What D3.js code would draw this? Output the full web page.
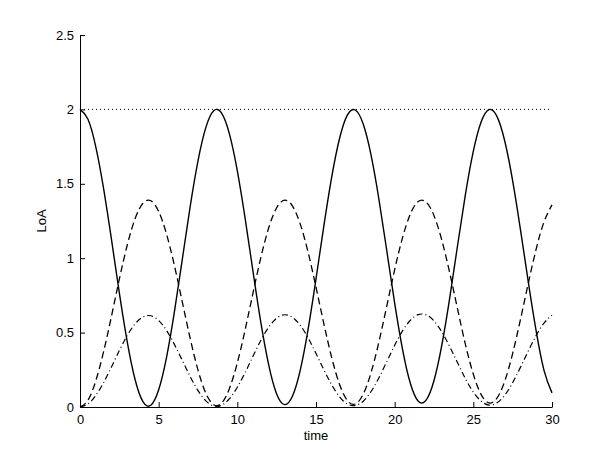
<!DOCTYPE html>
<html>
<head>
<meta charset="utf-8">
<script src="https://cdn.jsdelivr.net/npm/d3@7"></script>
<style>
  body { margin: 0; background: #fff; }
  svg { display: block; font-family: "Liberation Sans", Arial, sans-serif; }
  .axis text { font-size: 13px; fill: #000; }
  .axis path, .axis line { stroke: #000; }
</style>
</head>
<body>
<svg id="chart" width="610" height="459"></svg>
<script>
// time samples, step 0.5
var time = [0, 0.5, 1, 1.5, 2, 2.5, 3, 3.5, 4, 4.5, 5, 5.5, 6, 6.5, 7, 7.5, 8, 8.5, 9, 9.5,
    10, 10.5, 11, 11.5, 12, 12.5, 13, 13.5, 14, 14.5, 15, 15.5, 16, 16.5, 17, 17.5, 18, 18.5, 19, 19.5,
    20, 20.5, 21, 21.5, 22, 22.5, 23, 23.5, 24, 24.5, 25, 25.5, 26, 26.5, 27, 27.5, 28, 28.5, 29, 29.5, 30]

// solid line
var solidSeries = [2, 1.935, 1.750, 1.468, 1.126, 0.767, 0.440, 0.185, 0.036, 0.012,
    0.116, 0.334, 0.639, 0.991, 1.345, 1.654, 1.879, 1.991, 1.975, 1.834,
    1.587, 1.264, 0.908, 0.565, 0.280, 0.088, 0.016, 0.072, 0.248, 0.523,
    0.861, 1.217, 1.546, 1.806, 1.963, 1.996, 1.902, 1.693, 1.396, 1.050,
    0.698, 0.388, 0.158, 0.039, 0.046, 0.178, 0.418, 0.734, 1.087, 1.430,
    1.719, 1.917, 1.999, 1.953, 1.786, 1.520, 1.189, 0.836, 0.506, 0.243, 0.095]

// dashed line
var dashedSeries = [0, 0.045, 0.175, 0.372, 0.610, 0.859, 1.087, 1.265, 1.369, 1.386,
    1.314, 1.162, 0.951, 0.707, 0.462, 0.248, 0.092, 0.015, 0.026, 0.125,
    0.297, 0.521, 0.769, 1.007, 1.206, 1.339, 1.390, 1.352, 1.229, 1.039,
    0.805, 0.559, 0.331, 0.151, 0.043, 0.020, 0.086, 0.231, 0.438, 0.679,
    0.923, 1.138, 1.298, 1.381, 1.377, 1.286, 1.120, 0.901, 0.657, 0.419,
    0.220, 0.083, 0.027, 0.059, 0.175, 0.360, 0.590, 0.835, 1.064, 1.246, 1.358]

// dash-dot line
var dashDotSeries = [0, 0.020, 0.077, 0.164, 0.269, 0.379, 0.480, 0.559, 0.605, 0.613,
    0.581, 0.515, 0.421, 0.314, 0.205, 0.110, 0.041, 0.007, 0.012, 0.056,
    0.133, 0.232, 0.342, 0.449, 0.537, 0.597, 0.620, 0.603, 0.549, 0.464,
    0.360, 0.250, 0.149, 0.068, 0.020, 0.010, 0.039, 0.104, 0.197, 0.305,
    0.415, 0.512, 0.583, 0.621, 0.619, 0.579, 0.504, 0.406, 0.297, 0.190,
    0.100, 0.039, 0.013, 0.028, 0.080, 0.164, 0.268, 0.378, 0.482, 0.565, 0.617]

// dotted reference level
var totalLevel = [2, 2]
var totalTime = [0, 30]

var xTicks = [0, 5, 10, 15, 20, 25, 30]
var yTicks = [0, 0.5, 1, 1.5, 2, 2.5]

var margin = {left: 80, right: 58, top: 35, bottom: 52}
var width = 610 - margin.left - margin.right
var height = 459 - margin.top - margin.bottom

var svg = d3.select("#chart")
var g = svg.append("g")
    .attr("transform", "translate(" + margin.left + "," + margin.top + ")")

var x = d3.scaleLinear().domain([0, 30]).range([0, width])
var y = d3.scaleLinear().domain([0, 2.5]).range([height, 0])

var line = d3.line()
    .x(function(d) { return x(d[0]) })
    .y(function(d) { return y(d[1]) })
    .curve(d3.curveNatural)

function pairs(xs, ys) {
    return xs.map(function(t, i) { return [t, ys[i]] })
}

var lines = [
    {values: pairs(totalTime, totalLevel), dash: "1,3", width: 1},
    {values: pairs(time, dashedSeries), dash: "7,4", width: 1.3},
    {values: pairs(time, dashDotSeries), dash: "6,3,1,3", width: 1.2},
    {values: pairs(time, solidSeries), dash: null, width: 1.4}
]

g.selectAll(".series")
    .data(lines).enter()
    .append("path")
    .attr("class", "series")
    .attr("d", function(d) { return line(d.values) })
    .attr("fill", "none")
    .attr("stroke", "#000")
    .attr("stroke-width", function(d) { return d.width })
    .attr("stroke-dasharray", function(d) { return d.dash })

var xAxis = d3.axisBottom(x).tickValues(xTicks).tickSizeInner(-5).tickSizeOuter(0).tickPadding(8)
var yAxis = d3.axisLeft(y).tickValues(yTicks).tickSizeInner(-5).tickSizeOuter(0).tickPadding(6)
    .tickFormat(d3.format(""))

g.append("g")
    .attr("class", "axis axis-x")
    .attr("transform", "translate(0," + height + ")")
    .call(xAxis)
g.append("g")
    .attr("class", "axis axis-y")
    .call(yAxis)

g.selectAll(".axis .domain").attr("stroke-width", 1)

g.append("text")
    .attr("x", width / 2)
    .attr("y", height + 33)
    .attr("text-anchor", "middle")
    .style("font-size", "13px")
    .text("time")

g.append("text")
    .attr("transform", "translate(" + (-34) + "," + (height / 2) + ") rotate(-90)")
    .attr("text-anchor", "middle")
    .style("font-size", "13px")
    .text("LoA")
</script>
</body>
</html>
